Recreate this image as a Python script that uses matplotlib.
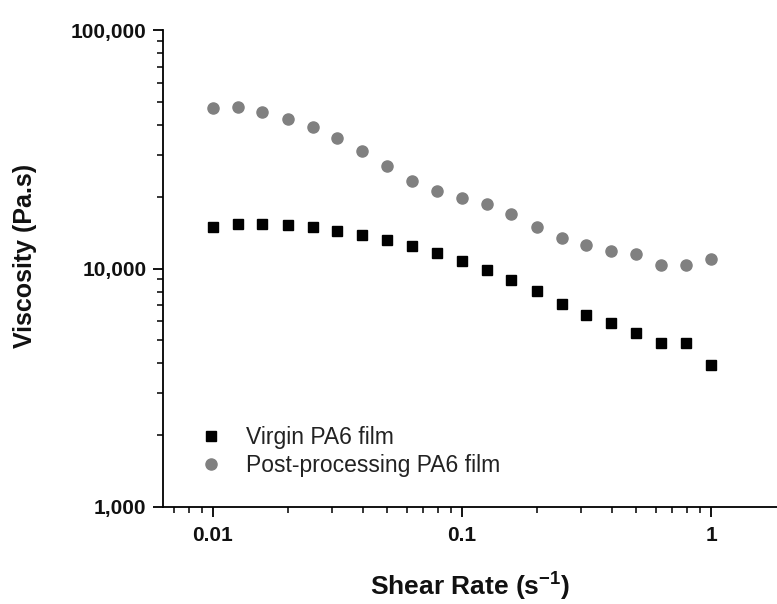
import matplotlib
matplotlib.use("Agg")
import matplotlib.pyplot as plt
import matplotlib.ticker as mticker
import numpy as np

# shear rate points (log spaced, 10 per decade)
shear_rate = [0.01, 0.0126, 0.0158, 0.02, 0.0251, 0.0316, 0.0398, 0.0501, 0.0631, 0.0794,
              0.1, 0.126, 0.158, 0.2, 0.251, 0.316, 0.398, 0.501, 0.631, 0.794, 1.0]

virgin = [14870, 15310, 15410, 15160, 14870, 14310, 13760, 13110, 12370, 11600,
          10800, 9900, 8930, 8030, 7130, 6410, 5910, 5370, 4860, 4850, 3950]

post_proc = [46900, 47600, 45100, 42400, 39240, 35420, 31230, 27010, 23360, 21130,
             19780, 18630, 16970, 14910, 13410, 12530, 11820, 11530, 10360, 10390, 10940]

plt.rcParams['font.family'] = ['Liberation Sans', 'DejaVu Sans']
plt.rcParams['mathtext.fontset'] = 'custom'
plt.rcParams['mathtext.rm'] = 'Liberation Sans:bold'
plt.rcParams['mathtext.bf'] = 'Liberation Sans:bold'
plt.rcParams['mathtext.default'] = 'bf'

fig = plt.figure(figsize=(7.77, 6.04), dpi=100)
ax = fig.add_axes([0.2098, 0.1606, 0.7902, 0.7897])

ax.plot(shear_rate, virgin, 's', color='black', markersize=7.2, label='Virgin PA6 film')
ax.plot(shear_rate, post_proc, 'o', color='#808080', markersize=8, label='Post-processing PA6 film')

ax.set_xscale('log')
ax.set_yscale('log')
ax.set_xlim(0.0063, 1.84)
ax.set_ylim(1000, 100000)

ax.spines['top'].set_visible(False)
ax.spines['right'].set_visible(False)
ax.spines['left'].set_linewidth(1.3)
ax.spines['bottom'].set_linewidth(1.3)

ax.set_yticks([1000, 10000, 100000])
ax.yaxis.set_major_formatter(mticker.FuncFormatter(lambda v, p: f'{int(v):,}'))
ax.yaxis.set_minor_formatter(mticker.NullFormatter())
ax.set_xticks([0.01, 0.1, 1])
ax.xaxis.set_major_formatter(mticker.FuncFormatter(lambda v, p: f'{v:g}'))
ax.xaxis.set_minor_formatter(mticker.NullFormatter())

ax.tick_params(which='major', direction='out', length=7, width=1.3, labelsize=15)
ax.tick_params(which='minor', direction='out', length=4, width=1.1)
for lbl in ax.get_xticklabels() + ax.get_yticklabels():
    lbl.set_fontweight('bold')
    lbl.set_color('#111111')
ax.tick_params(axis='x', pad=7)
ax.tick_params(axis='y', pad=5)

ax.set_xlabel(r'Shear Rate (s$^{-1}$)', fontsize=19, fontweight='bold', labelpad=18, color='#111111')
ax.set_ylabel('Viscosity (Pa.s)', fontsize=18, fontweight='bold', color='#111111')
ax.yaxis.set_label_coords(-0.205, 0.526)

leg = ax.legend(loc='lower left', bbox_to_anchor=(0.045, 0.043), frameon=False,
                fontsize=16.5, handletextpad=1.0, labelspacing=0.22, handlelength=1.0,
                borderaxespad=0)
for t in leg.get_texts():
    t.set_color('#222222')

plt.savefig('out.png', dpi=100)
